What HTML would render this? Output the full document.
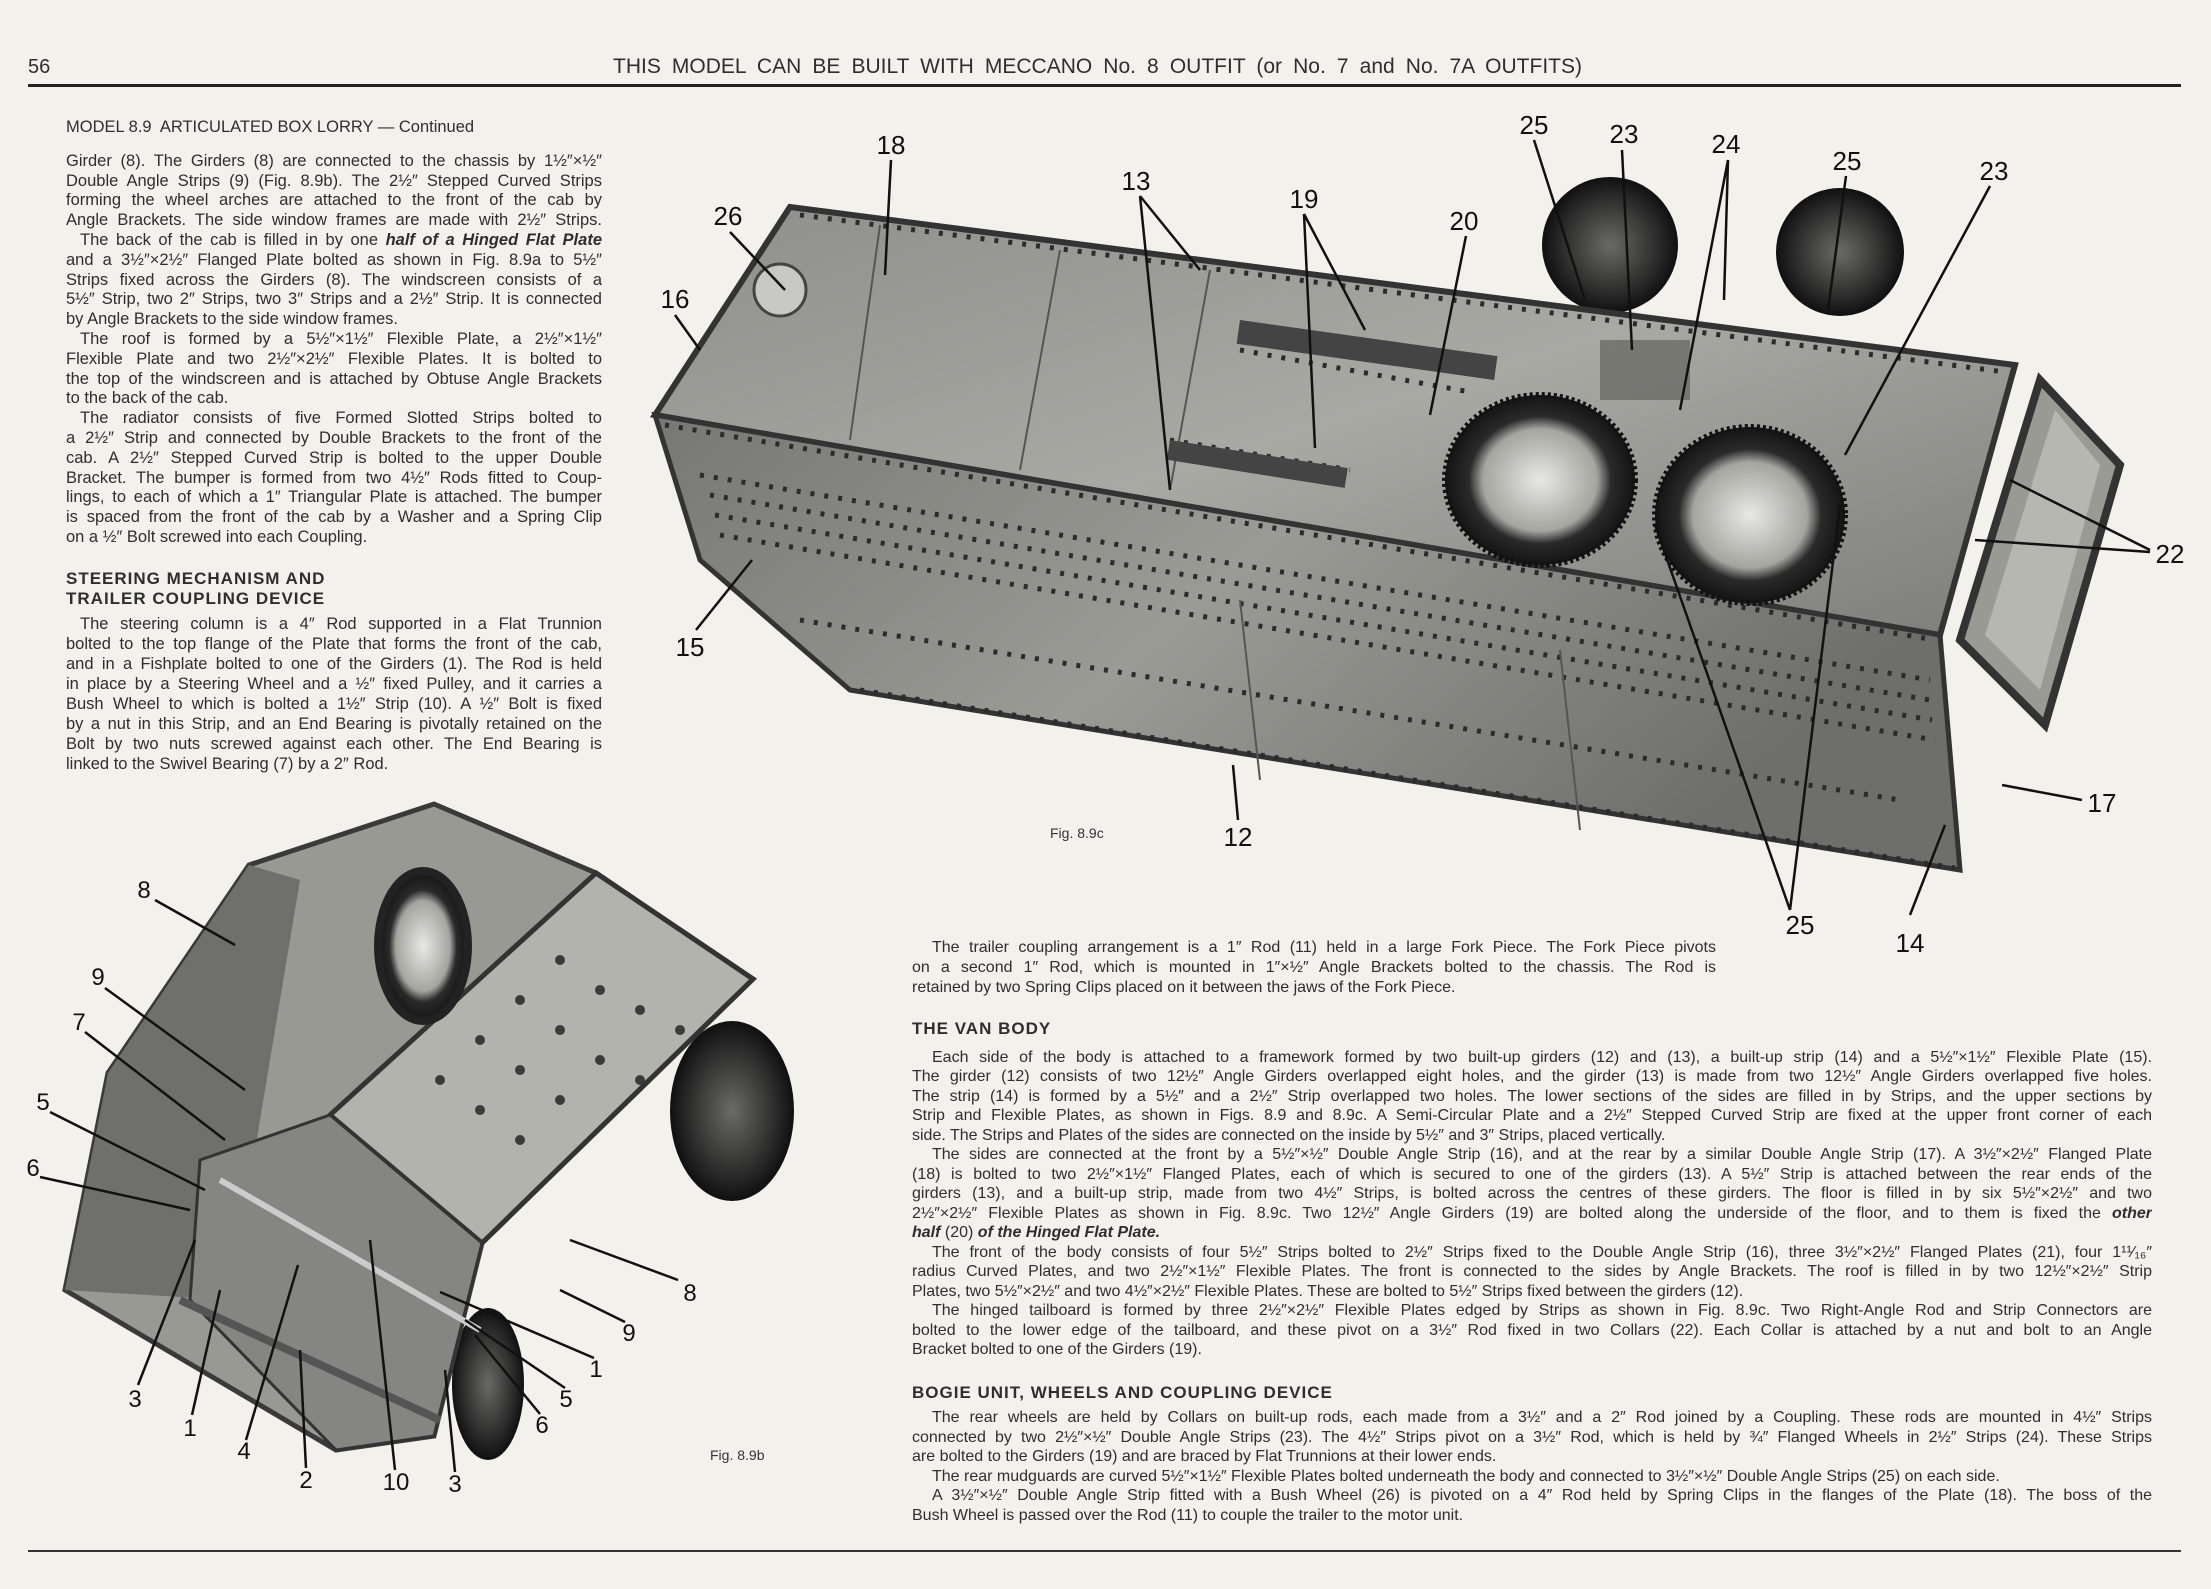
<!DOCTYPE html>
<html><head><meta charset="utf-8">
<style>
html,body{margin:0;padding:0}
body{width:2211px;height:1589px;position:relative;overflow:hidden;background:#f2f1ec;font-family:"Liberation Sans",sans-serif;color:#2e2e2e}
.l{position:absolute;height:20px;line-height:20px;font-size:16.5px;overflow:hidden;white-space:normal}
.r{font-size:16px}
.j{text-align:justify;text-align-last:justify}
.h{position:absolute;font-weight:bold;font-size:17px;letter-spacing:1px;line-height:20px}
svg{position:absolute;left:0;top:0}
</style></head><body>
<svg width="2211" height="1589" viewBox="0 0 2211 1589">
<defs>
<linearGradient id="gt" x1="0" y1="0" x2="1" y2="1"><stop offset="0" stop-color="#8e8e8a"/><stop offset="0.5" stop-color="#a9a9a4"/><stop offset="1" stop-color="#7d7d79"/></linearGradient>
<linearGradient id="gs" x1="0" y1="0" x2="1" y2="0.4"><stop offset="0" stop-color="#777773"/><stop offset="0.5" stop-color="#9b9b96"/><stop offset="1" stop-color="#6e6e6a"/></linearGradient>
<radialGradient id="gw"><stop offset="0" stop-color="#e8e8e4"/><stop offset="0.6" stop-color="#a5a5a0"/><stop offset="0.75" stop-color="#2a2a2a"/><stop offset="1" stop-color="#141414"/></radialGradient>
<radialGradient id="gr"><stop offset="0" stop-color="#6a6a66"/><stop offset="0.7" stop-color="#2c2c2c"/><stop offset="1" stop-color="#101010"/></radialGradient>
</defs>
<rect x="28" y="84" width="2153" height="3" fill="#222"/>
<rect x="28" y="1550" width="2153" height="2" fill="#333"/>

<circle cx="1610" cy="245" r="68" fill="url(#gr)"/>
<circle cx="1840" cy="252" r="64" fill="url(#gr)"/>
<polygon points="790,207 2015,365 1940,635 655,415" fill="url(#gt)" stroke="#333" stroke-width="6"/>
<polygon points="655,415 1940,635 1960,870 850,690 700,560" fill="url(#gs)" stroke="#333" stroke-width="5"/>
<polygon points="2040,380 2120,465 2045,725 1960,640" fill="#9a9a95" stroke="#333" stroke-width="8"/>
<polygon points="2055,410 2100,465 2040,690 1985,635" fill="#b7b7b2"/>
<g stroke="#2b2b2b" stroke-width="5" stroke-dasharray="4 10" fill="none">
<line x1="800" y1="215" x2="2005" y2="372"/>
<line x1="665" y1="425" x2="1935" y2="640"/>
<line x1="700" y1="475" x2="1930" y2="680"/>
<line x1="710" y1="495" x2="1930" y2="700"/>
<line x1="715" y1="515" x2="1932" y2="720"/>
<line x1="720" y1="535" x2="1935" y2="740"/>
<line x1="860" y1="690" x2="1955" y2="868"/>
<line x1="800" y1="620" x2="1900" y2="800"/>
<line x1="1250" y1="330" x2="1480" y2="370"/>
<line x1="1240" y1="350" x2="1470" y2="392"/>
<line x1="1170" y1="440" x2="1350" y2="470"/>
</g>
<g stroke="#555" stroke-width="2" fill="none">
<line x1="880" y1="225" x2="850" y2="440"/><line x1="1060" y1="250" x2="1020" y2="470"/>
<line x1="1210" y1="270" x2="1170" y2="490"/><line x1="1240" y1="600" x2="1260" y2="780"/>
<line x1="1560" y1="650" x2="1580" y2="830"/>
</g>
<rect x="1240" y="320" width="260" height="24" fill="#444" transform="rotate(8 1240 320)"/>
<rect x="1170" y="440" width="180" height="20" fill="#444" transform="rotate(9 1170 440)"/>
<ellipse cx="1540" cy="480" rx="95" ry="85" fill="url(#gw)"/>
<ellipse cx="1750" cy="515" rx="95" ry="88" fill="url(#gw)"/>
<ellipse cx="1540" cy="480" rx="95" ry="85" fill="none" stroke="#111" stroke-width="6" stroke-dasharray="3 3"/>
<ellipse cx="1750" cy="515" rx="95" ry="88" fill="none" stroke="#111" stroke-width="6" stroke-dasharray="3 3"/>
<rect x="1600" y="340" width="90" height="60" fill="#6b6b67" opacity="0.8"/>
<circle cx="780" cy="290" r="26" fill="#c8c8c4" stroke="#444" stroke-width="3"/>
<g font-family="Liberation Sans,sans-serif" font-size="26" fill="#111" text-anchor="middle">
<text x="891" y="154">18</text><text x="1136" y="190">13</text><text x="728" y="225">26</text>
<text x="675" y="308">16</text><text x="1304" y="208">19</text><text x="1464" y="230">20</text>
<text x="1534" y="134">25</text><text x="1624" y="143">23</text><text x="1726" y="153">24</text>
<text x="1847" y="170">25</text><text x="1994" y="180">23</text><text x="2170" y="563">22</text>
<text x="690" y="656">15</text><text x="1238" y="846">12</text><text x="2102" y="812">17</text>
<text x="1800" y="934">25</text><text x="1910" y="952">14</text>
</g>
<text x="1050" y="838" font-family="Liberation Sans,sans-serif" font-size="14" fill="#333">Fig. 8.9c</text>
<g stroke="#111" stroke-width="2.5" fill="none">
<line x1="891" y1="160" x2="885" y2="275"/>
<line x1="1140" y1="196" x2="1200" y2="270"/><line x1="1140" y1="196" x2="1170" y2="490"/>
<line x1="730" y1="232" x2="785" y2="290"/><line x1="675" y1="315" x2="700" y2="350"/>
<line x1="1304" y1="214" x2="1365" y2="330"/><line x1="1304" y1="214" x2="1315" y2="448"/>
<line x1="1466" y1="236" x2="1430" y2="415"/><line x1="1534" y1="140" x2="1585" y2="300"/>
<line x1="1622" y1="150" x2="1632" y2="350"/><line x1="1728" y1="160" x2="1680" y2="410"/>
<line x1="1728" y1="160" x2="1724" y2="300"/><line x1="1846" y1="176" x2="1828" y2="310"/>
<line x1="1990" y1="186" x2="1845" y2="455"/><line x1="2150" y1="550" x2="2010" y2="480"/>
<line x1="2150" y1="552" x2="1975" y2="540"/><line x1="696" y1="630" x2="752" y2="560"/>
<line x1="1238" y1="820" x2="1233" y2="765"/><line x1="2082" y1="800" x2="2002" y2="785"/>
<line x1="1790" y1="910" x2="1655" y2="525"/><line x1="1790" y1="910" x2="1840" y2="505"/>
<line x1="1910" y1="915" x2="1945" y2="825"/>
</g>

<ellipse cx="732" cy="1111" rx="62" ry="90" fill="url(#gr)"/>
<ellipse cx="488" cy="1384" rx="36" ry="76" fill="url(#gr)"/>
<polygon points="249,865 434,804 596,873 753,979 482,1243 434,1436 336,1450 65,1290 108,1073" fill="#999994" stroke="#3a3a3a" stroke-width="5"/>
<polygon points="596,873 753,979 482,1243 330,1115" fill="#b3b3ae" stroke="#333" stroke-width="5"/>
<polygon points="108,1073 249,865 300,880 230,1300 65,1290" fill="#6f6f6b"/>
<polygon points="200,1160 330,1115 482,1243 434,1436 336,1450 190,1300" fill="#858581" stroke="#333" stroke-width="3"/>
<g fill="#3a3a3a">
<circle cx="560" cy="960" r="5"/><circle cx="600" cy="990" r="5"/><circle cx="640" cy="1010" r="5"/><circle cx="520" cy="1000" r="5"/><circle cx="560" cy="1030" r="5"/><circle cx="600" cy="1060" r="5"/><circle cx="480" cy="1040" r="5"/><circle cx="520" cy="1070" r="5"/><circle cx="560" cy="1100" r="5"/><circle cx="440" cy="1080" r="5"/><circle cx="480" cy="1110" r="5"/><circle cx="520" cy="1140" r="5"/><circle cx="680" cy="1030" r="5"/><circle cx="640" cy="1080" r="5"/>
</g>
<ellipse cx="423" cy="946" rx="45" ry="75" fill="url(#gw)" stroke="#222" stroke-width="8"/>
<line x1="180" y1="1300" x2="440" y2="1420" stroke="#555" stroke-width="8"/>
<line x1="220" y1="1180" x2="480" y2="1330" stroke="#ccc" stroke-width="6"/>
<g font-family="Liberation Sans,sans-serif" font-size="24" fill="#111" text-anchor="middle">
<text x="144" y="898">8</text><text x="98" y="985">9</text><text x="79" y="1030">7</text>
<text x="43" y="1110">5</text><text x="33" y="1176">6</text><text x="135" y="1407">3</text>
<text x="190" y="1436">1</text><text x="244" y="1459">4</text><text x="306" y="1488">2</text>
<text x="396" y="1490">10</text><text x="455" y="1492">3</text><text x="542" y="1433">6</text>
<text x="566" y="1407">5</text><text x="596" y="1377">1</text><text x="629" y="1341">9</text>
<text x="690" y="1301">8</text>
</g>
<text x="710" y="1460" font-family="Liberation Sans,sans-serif" font-size="14" fill="#333">Fig. 8.9b</text>
<g stroke="#111" stroke-width="2.5" fill="none">
<line x1="155" y1="900" x2="235" y2="945"/><line x1="105" y1="988" x2="245" y2="1090"/>
<line x1="85" y1="1032" x2="225" y2="1140"/><line x1="50" y1="1112" x2="205" y2="1190"/>
<line x1="40" y1="1177" x2="190" y2="1210"/><line x1="138" y1="1385" x2="195" y2="1240"/>
<line x1="192" y1="1415" x2="220" y2="1290"/><line x1="246" y1="1440" x2="298" y2="1265"/>
<line x1="306" y1="1468" x2="300" y2="1350"/><line x1="395" y1="1470" x2="370" y2="1240"/>
<line x1="455" y1="1472" x2="445" y2="1370"/><line x1="540" y1="1414" x2="475" y2="1335"/>
<line x1="565" y1="1388" x2="465" y2="1320"/><line x1="594" y1="1358" x2="440" y2="1292"/>
<line x1="625" y1="1322" x2="560" y2="1290"/><line x1="678" y1="1280" x2="570" y2="1240"/>
</g>
</svg>

<div class="l" style="left:28px;top:55px;font-size:20px;line-height:24px;height:24px">56</div>
<div class="l j" style="left:613px;top:55px;width:969px;font-size:21px;line-height:24px;height:24px">THIS MODEL CAN BE BUILT WITH MECCANO No. 8 OUTFIT (or No. 7 and No. 7A OUTFITS)</div>

<div class="l" style="left:66px;top:117px;width:540px;font-size:16.5px">MODEL 8.9&nbsp; ARTICULATED BOX LORRY — Continued</div>
<div class="l j" style="left:66px;top:151px;width:536px">Girder (8). The Girders (8) are connected to the chassis by 1½″×½″</div>
<div class="l j" style="left:66px;top:171px;width:536px">Double Angle Strips (9) (Fig. 8.9b). The 2½″ Stepped Curved Strips</div>
<div class="l j" style="left:66px;top:190px;width:536px">forming the wheel arches are attached to the front of the cab by</div>
<div class="l j" style="left:66px;top:210px;width:536px">Angle Brackets. The side window frames are made with 2½″ Strips.</div>
<div class="l j" style="left:80px;top:230px;width:522px">The back of the cab is filled in by one <b><i>half of a Hinged Flat Plate</i></b></div>
<div class="l j" style="left:66px;top:250px;width:536px">and a 3½″×2½″ Flanged Plate bolted as shown in Fig. 8.9a to 5½″</div>
<div class="l j" style="left:66px;top:270px;width:536px">Strips fixed across the Girders (8). The windscreen consists of a</div>
<div class="l j" style="left:66px;top:289px;width:536px">5½″ Strip, two 2″ Strips, two 3″ Strips and a 2½″ Strip. It is connected</div>
<div class="l" style="left:66px;top:309px;width:536px">by Angle Brackets to the side window frames.</div>
<div class="l j" style="left:80px;top:329px;width:522px">The roof is formed by a 5½″×1½″ Flexible Plate, a 2½″×1½″</div>
<div class="l j" style="left:66px;top:349px;width:536px">Flexible Plate and two 2½″×2½″ Flexible Plates. It is bolted to</div>
<div class="l j" style="left:66px;top:369px;width:536px">the top of the windscreen and is attached by Obtuse Angle Brackets</div>
<div class="l" style="left:66px;top:388px;width:536px">to the back of the cab.</div>
<div class="l j" style="left:80px;top:408px;width:522px">The radiator consists of five Formed Slotted Strips bolted to</div>
<div class="l j" style="left:66px;top:428px;width:536px">a 2½″ Strip and connected by Double Brackets to the front of the</div>
<div class="l j" style="left:66px;top:448px;width:536px">cab. A 2½″ Stepped Curved Strip is bolted to the upper Double</div>
<div class="l j" style="left:66px;top:468px;width:536px">Bracket. The bumper is formed from two 4½″ Rods fitted to Coup-</div>
<div class="l j" style="left:66px;top:487px;width:536px">lings, to each of which a 1″ Triangular Plate is attached. The bumper</div>
<div class="l j" style="left:66px;top:507px;width:536px">is spaced from the front of the cab by a Washer and a Spring Clip</div>
<div class="l" style="left:66px;top:527px;width:536px">on a ½″ Bolt screwed into each Coupling.</div>

<div class="h" style="left:66px;top:569px">STEERING MECHANISM AND</div>
<div class="h" style="left:66px;top:589px">TRAILER COUPLING DEVICE</div>
<div class="l j" style="left:80px;top:614px;width:522px">The steering column is a 4″ Rod supported in a Flat Trunnion</div>
<div class="l j" style="left:66px;top:634px;width:536px">bolted to the top flange of the Plate that forms the front of the cab,</div>
<div class="l j" style="left:66px;top:654px;width:536px">and in a Fishplate bolted to one of the Girders (1). The Rod is held</div>
<div class="l j" style="left:66px;top:674px;width:536px">in place by a Steering Wheel and a ½″ fixed Pulley, and it carries a</div>
<div class="l j" style="left:66px;top:694px;width:536px">Bush Wheel to which is bolted a 1½″ Strip (10). A ½″ Bolt is fixed</div>
<div class="l j" style="left:66px;top:714px;width:536px">by a nut in this Strip, and an End Bearing is pivotally retained on the</div>
<div class="l j" style="left:66px;top:734px;width:536px">Bolt by two nuts screwed against each other. The End Bearing is</div>
<div class="l" style="left:66px;top:754px;width:536px">linked to the Swivel Bearing (7) by a 2″ Rod.</div>

<div class="l r j" style="left:932px;top:938px;width:784px">The trailer coupling arrangement is a 1″ Rod (11) held in a large Fork Piece. The Fork Piece pivots</div>
<div class="l r j" style="left:912px;top:958px;width:804px">on a second 1″ Rod, which is mounted in 1″×½″ Angle Brackets bolted to the chassis. The Rod is</div>
<div class="l r" style="left:912px;top:978px;width:804px">retained by two Spring Clips placed on it between the jaws of the Fork Piece.</div>

<div class="h" style="left:912px;top:1019px">THE VAN BODY</div>
<div class="l r j" style="left:932px;top:1048px;width:1220px">Each side of the body is attached to a framework formed by two built-up girders (12) and (13), a built-up strip (14) and a 5½″×1½″ Flexible Plate (15).</div>
<div class="l r j" style="left:912px;top:1067px;width:1240px">The girder (12) consists of two 12½″ Angle Girders overlapped eight holes, and the girder (13) is made from two 12½″ Angle Girders overlapped five holes.</div>
<div class="l r j" style="left:912px;top:1087px;width:1240px">The strip (14) is formed by a 5½″ and a 2½″ Strip overlapped two holes. The lower sections of the sides are filled in by Strips, and the upper sections by</div>
<div class="l r j" style="left:912px;top:1106px;width:1240px">Strip and Flexible Plates, as shown in Figs. 8.9 and 8.9c. A Semi-Circular Plate and a 2½″ Stepped Curved Strip are fixed at the upper front corner of each</div>
<div class="l r" style="left:912px;top:1126px;width:1240px">side. The Strips and Plates of the sides are connected on the inside by 5½″ and 3″ Strips, placed vertically.</div>
<div class="l r j" style="left:932px;top:1145px;width:1220px">The sides are connected at the front by a 5½″×½″ Double Angle Strip (16), and at the rear by a similar Double Angle Strip (17). A 3½″×2½″ Flanged Plate</div>
<div class="l r j" style="left:912px;top:1165px;width:1240px">(18) is bolted to two 2½″×1½″ Flanged Plates, each of which is secured to one of the girders (13). A 5½″ Strip is attached between the rear ends of the</div>
<div class="l r j" style="left:912px;top:1184px;width:1240px">girders (13), and a built-up strip, made from two 4½″ Strips, is bolted across the centres of these girders. The floor is filled in by six 5½″×2½″ and two</div>
<div class="l r j" style="left:912px;top:1204px;width:1240px">2½″×2½″ Flexible Plates as shown in Fig. 8.9c. Two 12½″ Angle Girders (19) are bolted along the underside of the floor, and to them is fixed the <b><i>other</i></b></div>
<div class="l r" style="left:912px;top:1223px;width:1240px"><b><i>half</i></b> (20) <b><i>of the Hinged Flat Plate.</i></b></div>
<div class="l r j" style="left:932px;top:1243px;width:1220px">The front of the body consists of four 5½″ Strips bolted to 2½″ Strips fixed to the Double Angle Strip (16), three 3½″×2½″ Flanged Plates (21), four 1¹¹⁄₁₆″</div>
<div class="l r j" style="left:912px;top:1262px;width:1240px">radius Curved Plates, and two 2½″×1½″ Flexible Plates. The front is connected to the sides by Angle Brackets. The roof is filled in by two 12½″×2½″ Strip</div>
<div class="l r" style="left:912px;top:1282px;width:1240px">Plates, two 5½″×2½″ and two 4½″×2½″ Flexible Plates. These are bolted to 5½″ Strips fixed between the girders (12).</div>
<div class="l r j" style="left:932px;top:1301px;width:1220px">The hinged tailboard is formed by three 2½″×2½″ Flexible Plates edged by Strips as shown in Fig. 8.9c. Two Right-Angle Rod and Strip Connectors are</div>
<div class="l r j" style="left:912px;top:1321px;width:1240px">bolted to the lower edge of the tailboard, and these pivot on a 3½″ Rod fixed in two Collars (22). Each Collar is attached by a nut and bolt to an Angle</div>
<div class="l r" style="left:912px;top:1340px;width:1240px">Bracket bolted to one of the Girders (19).</div>

<div class="h" style="left:912px;top:1383px">BOGIE UNIT, WHEELS AND COUPLING DEVICE</div>
<div class="l r j" style="left:932px;top:1408px;width:1220px">The rear wheels are held by Collars on built-up rods, each made from a 3½″ and a 2″ Rod joined by a Coupling. These rods are mounted in 4½″ Strips</div>
<div class="l r j" style="left:912px;top:1428px;width:1240px">connected by two 2½″×½″ Double Angle Strips (23). The 4½″ Strips pivot on a 3½″ Rod, which is held by ¾″ Flanged Wheels in 2½″ Strips (24). These Strips</div>
<div class="l r" style="left:912px;top:1447px;width:1240px">are bolted to the Girders (19) and are braced by Flat Trunnions at their lower ends.</div>
<div class="l r" style="left:932px;top:1467px;width:1220px">The rear mudguards are curved 5½″×1½″ Flexible Plates bolted underneath the body and connected to 3½″×½″ Double Angle Strips (25) on each side.</div>
<div class="l r j" style="left:932px;top:1486px;width:1220px">A 3½″×½″ Double Angle Strip fitted with a Bush Wheel (26) is pivoted on a 4″ Rod held by Spring Clips in the flanges of the Plate (18). The boss of the</div>
<div class="l r" style="left:912px;top:1506px;width:1240px">Bush Wheel is passed over the Rod (11) to couple the trailer to the motor unit.</div>
</body></html>
